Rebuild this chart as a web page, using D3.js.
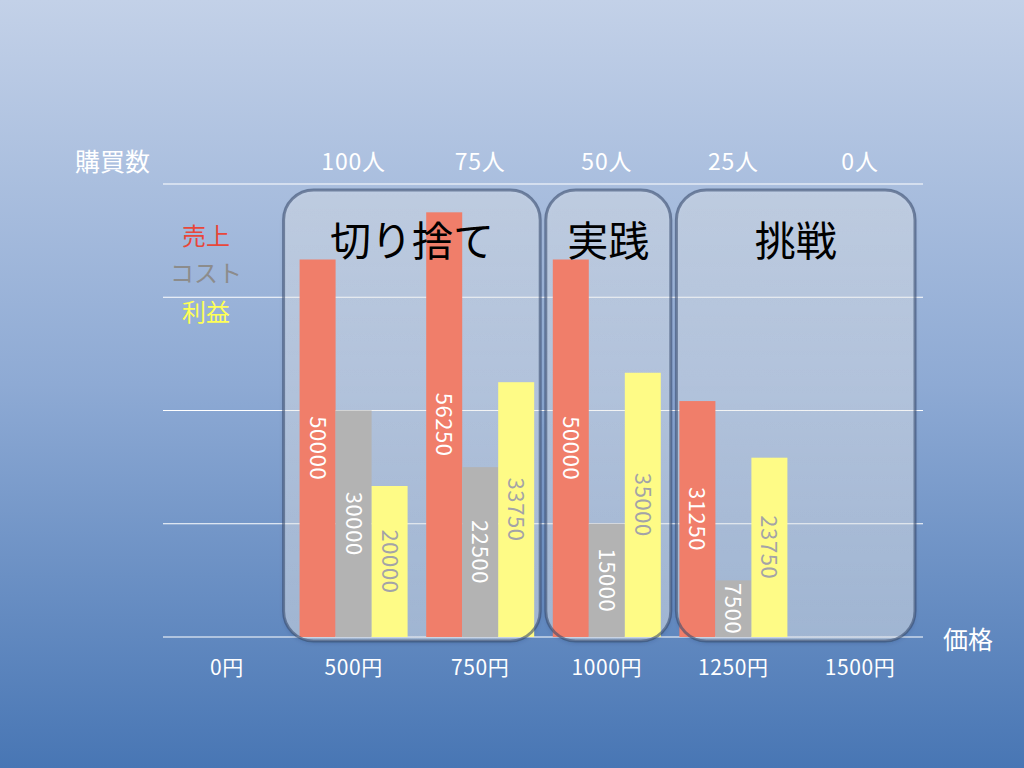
<!doctype html>
<html lang="ja">
<head>
<meta charset="UTF-8">
<title>価格と利益</title>
<script src="https://d3js.org/d3.v7.min.js"></script>
<style>
  body { margin: 0; }
  svg text { font-family: "Noto Sans CJK JP", "Noto Sans", sans-serif; }
</style>
</head>
<body>
<div id="chart-area"></div>

<script>
const W = 1024;
const H = 768;

// data
const prices  = ['0円', '500円', '750円', '1000円', '1250円', '1500円'];
const buyers  = ['', '100人', '75人', '50人', '25人', '0人'];
const sales   = [0, 50000, 56250, 50000, 31250, 0];
const cost    = [0, 30000, 22500, 15000, 7500, 0];
const profit  = [0, 20000, 33750, 35000, 23750, 0];
const seriesNames = ['売上', 'コスト', '利益'];
const yTicks  = [0, 15000, 30000, 45000, 60000];
const groupNames = ['切り捨て', '実践', '挑戦'];
const groupFrom  = ['500円', '1000円', '1250円'];
const groupTo    = ['750円', '1000円', '1500円'];

const barColors   = ['#f07e6a', '#b3b3b3', '#fefb86'];
const legendColor = ['#e8473a', '#8c8c8c', '#ffff55'];
const labelColor  = ['#ffffff', '#ffffff', '#a3a3a8'];
// left / right padding of each rounded box around its categories
const boxPads = [[70, 60], [61, 64], [57, 55]];

const svg = d3.select('#chart-area')
    .append('svg')
    .attr('width', W)
    .attr('height', H);

const defs = svg.append('defs');
const bg = defs.append('linearGradient')
    .attr('id', 'bg').attr('x1', 0).attr('y1', 0).attr('x2', 0).attr('y2', 1);
bg.append('stop').attr('offset', 0).attr('stop-color', '#c3d1e8');
bg.append('stop').attr('offset', 0.5).attr('stop-color', '#8eaad4');
bg.append('stop').attr('offset', 1).attr('stop-color', '#4876b4');

const boxFill = defs.append('linearGradient')
    .attr('id', 'boxfill').attr('x1', 0).attr('y1', 0).attr('x2', 0).attr('y2', 1);
boxFill.append('stop').attr('offset', 0).attr('stop-color', '#ffffff').attr('stop-opacity', 0.28);
boxFill.append('stop').attr('offset', 1).attr('stop-color', '#ffffff').attr('stop-opacity', 0.38);

const shadow = defs.append('filter').attr('id', 'shadow')
    .attr('x', -0.1).attr('y', -0.1).attr('width', 1.2).attr('height', 1.2);
shadow.append('feDropShadow')
    .attr('dx', 0).attr('dy', 2).attr('stdDeviation', 2)
    .attr('flood-color', '#1c2c4a').attr('flood-opacity', 0.45);

svg.append('rect').attr('width', W).attr('height', H).attr('fill', 'url(#bg)');

const x = d3.scalePoint()
    .domain(prices)
    .range([227, 860]);

const y = d3.scaleLinear()
    .domain([0, 60000])
    .range([637, 184]);

const sub = d3.scaleBand()
    .domain(seriesNames)
    .range([-54, 54]);

// grid
svg.append('g')
    .selectAll('line')
    .data(yTicks)
    .enter()
    .append('line')
    .attr('x1', 163).attr('x2', 923)
    .attr('y1', d => y(d)).attr('y2', d => y(d))
    .attr('stroke', '#ffffff')
    .attr('stroke-width', 1.2);

// group boxes (fill)
const boxes = groupNames.map((name, i) => ({
    name,
    x0: x(groupFrom[i]) - boxPads[i][0],
    x1: x(groupTo[i]) + boxPads[i][1]
}));

svg.append('g')
    .selectAll('rect')
    .data(boxes)
    .enter()
    .append('rect')
    .attr('x', d => d.x0)
    .attr('y', y(60000) + 6)
    .attr('width', d => d.x1 - d.x0)
    .attr('height', y(0) + 4 - (y(60000) + 6))
    .attr('rx', 30)
    .attr('fill', 'url(#boxfill)')
    .attr('filter', 'url(#shadow)');

// bars
const rows = [];
prices.forEach((p, i) => {
    [sales[i], cost[i], profit[i]].forEach((v, s) => {
        if (v > 0) rows.push({ p, s, v });
    });
});

const gBars = svg.append('g');
gBars.selectAll('rect')
    .data(rows)
    .enter()
    .append('rect')
    .attr('x', d => x(d.p) + sub(seriesNames[d.s]))
    .attr('y', d => y(d.v))
    .attr('width', sub.bandwidth())
    .attr('height', d => y(0) - y(d.v))
    .attr('fill', d => barColors[d.s]);

gBars.selectAll('text')
    .data(rows)
    .enter()
    .append('text')
    .attr('transform', d => {
        const cx = x(d.p) + sub(seriesNames[d.s]) + sub.bandwidth() / 2;
        const cy = (y(d.v) + y(0)) / 2;
        return `translate(${cx},${cy}) rotate(90)`;
    })
    .attr('text-anchor', 'middle')
    .attr('dy', '0.36em')
    .attr('font-size', 22)
    .attr('letter-spacing', 0.6)
    .attr('fill', d => labelColor[d.s])
    .text(d => d.v);

// group boxes (outline + title)
const gOut = svg.append('g');
gOut.selectAll('rect')
    .data(boxes)
    .enter()
    .append('rect')
    .attr('x', d => d.x0)
    .attr('y', y(60000) + 6)
    .attr('width', d => d.x1 - d.x0)
    .attr('height', y(0) + 4 - (y(60000) + 6))
    .attr('rx', 30)
    .attr('fill', 'none')
    .attr('stroke', '#3a4c6e')
    .attr('stroke-opacity', 0.6)
    .attr('stroke-width', 3);

gOut.selectAll('text')
    .data(boxes)
    .enter()
    .append('text')
    .attr('x', d => (d.x0 + d.x1) / 2)
    .attr('y', 256)
    .attr('text-anchor', 'middle')
    .attr('font-size', 41)
    .attr('fill', '#000000')
    .text(d => d.name);

// axis labels
svg.append('g')
    .selectAll('text')
    .data(prices)
    .enter()
    .append('text')
    .attr('x', d => x(d))
    .attr('y', 675)
    .attr('text-anchor', 'middle')
    .attr('font-size', 21)
    .attr('letter-spacing', 0.6)
    .attr('fill', '#ffffff')
    .text(d => d);

svg.append('g')
    .selectAll('text')
    .data(buyers)
    .enter()
    .append('text')
    .attr('x', (d, i) => x(prices[i]))
    .attr('y', 170)
    .attr('text-anchor', 'middle')
    .attr('font-size', 23)
    .attr('letter-spacing', 0.8)
    .attr('fill', '#ffffff')
    .text(d => d);

svg.append('text')
    .attr('x', 75).attr('y', 171)
    .attr('font-size', 25)
    .attr('fill', '#ffffff')
    .text('購買数');

svg.append('text')
    .attr('x', 943).attr('y', 649)
    .attr('font-size', 25)
    .attr('fill', '#ffffff')
    .text('価格');

// legend
svg.append('g')
    .selectAll('text')
    .data(seriesNames)
    .enter()
    .append('text')
    .attr('x', 206)
    .attr('y', (d, i) => [245, 282, 321][i])
    .attr('text-anchor', 'middle')
    .attr('font-size', 24)
    .attr('fill', (d, i) => legendColor[i])
    .text(d => d);
</script>

</body>
</html>
